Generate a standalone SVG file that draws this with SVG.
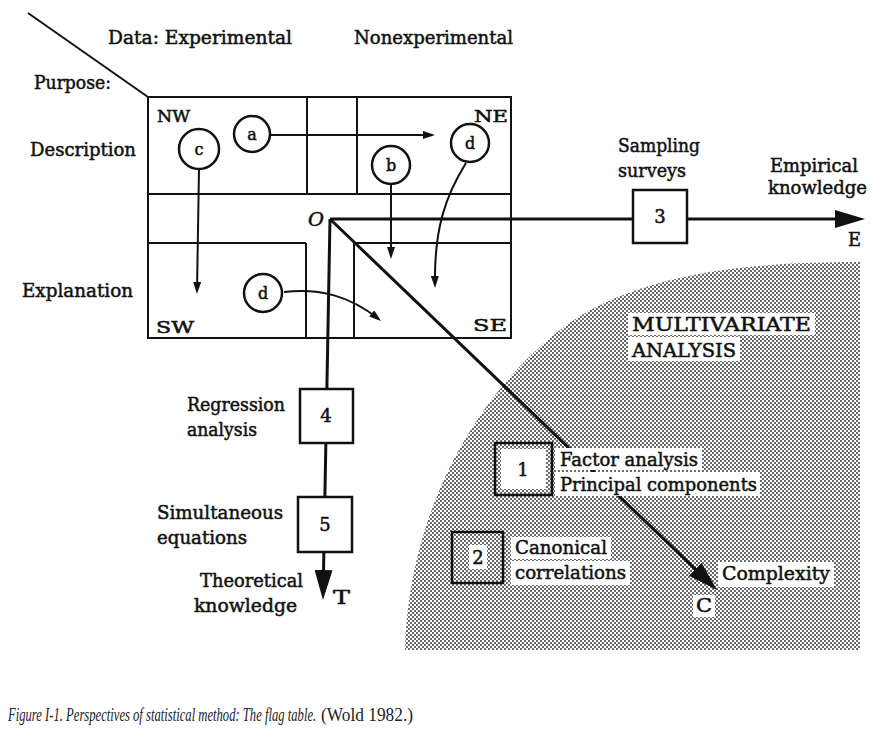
<svg xmlns="http://www.w3.org/2000/svg" width="880" height="743" viewBox="0 0 880 743">
<style>
.t{font-family:"DejaVu Serif","Liberation Serif",serif;font-size:18px;fill:#111;stroke:#111;stroke-width:0.5}
.s{font-size:16px}
.cap{font-family:"Liberation Serif",serif;font-size:18px;fill:#222}
.ln{fill:none;stroke:#111;stroke-width:2}
.ax{fill:none;stroke:#111;stroke-width:3}
.box{fill:#fff;stroke:#111;stroke-width:2.5}
.cir{fill:#fff;stroke:#111;stroke-width:2.5}
.bg{fill:#fff}
</style>
<defs>
<pattern id="dots" width="4" height="4" patternUnits="userSpaceOnUse">
<rect width="4" height="4" fill="#fff"/>
<rect width="2" height="2" fill="#6a6a6a"/>
<rect x="2" y="2" width="2" height="2" fill="#6a6a6a"/>
</pattern>
<marker id="sm" markerUnits="userSpaceOnUse" markerWidth="12" markerHeight="8" refX="9" refY="4" orient="auto">
<path d="M0,0 L12,4 L0,8 Z" fill="#111"/>
</marker>
<marker id="lg" markerUnits="userSpaceOnUse" markerWidth="30" markerHeight="18" refX="18" refY="9" orient="auto">
<path d="M0,0 L30,9 L0,18 Z" fill="#111"/>
</marker>
</defs>
<rect width="880" height="743" fill="#fff"/>

<g id="shade">
<path d="M405,650 C408,520 470,400 560,330 C637,270 760,262 860,262 L860,650 Z" fill="url(#dots)"/>
</g>

<g id="flag-table">
<line class="ln" x1="28" y1="13" x2="148" y2="97"/>
<rect class="ln" x="148" y="97" width="363" height="241"/>
<line class="ln" x1="148" y1="194" x2="511" y2="194"/>
<line class="ln" x1="148" y1="243" x2="306" y2="243"/>
<line class="ln" x1="354" y1="243" x2="511" y2="243"/>
<line class="ln" x1="307" y1="97" x2="307" y2="194"/>
<line class="ln" x1="357" y1="97" x2="357" y2="194"/>
<line class="ln" x1="306" y1="243" x2="306" y2="338"/>
<line class="ln" x1="354" y1="243" x2="354" y2="338"/>
<text class="t s" x="157" y="122" textLength="33" lengthAdjust="spacingAndGlyphs">NW</text>
<text class="t s" x="474" y="122" textLength="34" lengthAdjust="spacingAndGlyphs">NE</text>
<text class="t s" x="156" y="333" textLength="38" lengthAdjust="spacingAndGlyphs">SW</text>
<text class="t s" x="473" y="331" textLength="34" lengthAdjust="spacingAndGlyphs">SE</text>
<text class="t" x="308" y="226" font-style="italic" textLength="16" lengthAdjust="spacingAndGlyphs">O</text>
</g>

<g id="headers">
<text class="t" x="108" y="44" textLength="184" lengthAdjust="spacingAndGlyphs">Data: Experimental</text>
<text class="t" x="354" y="44" textLength="159" lengthAdjust="spacingAndGlyphs">Nonexperimental</text>
<text class="t" x="34" y="89" textLength="77" lengthAdjust="spacingAndGlyphs">Purpose:</text>
<text class="t" x="30" y="156" textLength="106" lengthAdjust="spacingAndGlyphs">Description</text>
<text class="t" x="22" y="297" textLength="111" lengthAdjust="spacingAndGlyphs">Explanation</text>
</g>

<g id="connectors">
<line class="ax" x1="330" y1="219" x2="853" y2="219" marker-end="url(#lg)"/>
<line class="ax" x1="330" y1="219" x2="323.2" y2="588" marker-end="url(#lg)"/>
<line class="ax" x1="330" y1="219" x2="708.3" y2="581.7" marker-end="url(#lg)"/>
<line class="ln" x1="270" y1="135" x2="432" y2="135" marker-end="url(#sm)"/>
<line class="ln" x1="199" y1="169" x2="197" y2="291" marker-end="url(#sm)"/>
<line class="ln" x1="391" y1="185" x2="391" y2="256" marker-end="url(#sm)"/>
<path class="ln" d="M466,163 C446,195 434,228 435,285" marker-end="url(#sm)"/>
<path class="ln" d="M284,292 C320,288 350,296 378.7,319.1" marker-end="url(#sm)"/>
</g>

<g id="circle-a"><circle class="cir" cx="252" cy="134" r="18"/><text class="t s" x="252" y="140" text-anchor="middle">a</text></g>
<g id="circle-c"><circle class="cir" cx="199" cy="149" r="20"/><text class="t s" x="199" y="155" text-anchor="middle">c</text></g>
<g id="circle-b"><circle class="cir" cx="391" cy="165" r="19"/><text class="t s" x="391" y="171" text-anchor="middle">b</text></g>
<g id="circle-d-ne"><circle class="cir" cx="470" cy="143" r="19"/><text class="t s" x="470" y="149" text-anchor="middle">d</text></g>
<g id="circle-d-sw"><circle class="cir" cx="263" cy="293" r="19"/><text class="t s" x="263" y="299" text-anchor="middle">d</text></g>

<g id="box-3">
<rect class="box" x="633" y="190" width="54" height="53"/>
<text class="t" x="660" y="223" text-anchor="middle">3</text>
<text class="t" x="618" y="152" textLength="82" lengthAdjust="spacingAndGlyphs">Sampling</text>
<text class="t" x="618" y="177" textLength="68" lengthAdjust="spacingAndGlyphs">surveys</text>
</g>
<g id="empirical">
<text class="t" x="770" y="172" textLength="88" lengthAdjust="spacingAndGlyphs">Empirical</text>
<text class="t" x="768" y="194" textLength="99" lengthAdjust="spacingAndGlyphs">knowledge</text>
<text class="t" x="848" y="246" textLength="13" lengthAdjust="spacingAndGlyphs">E</text>
</g>

<g id="box-4">
<rect class="box" x="300" y="389" width="53" height="54"/>
<text class="t" x="326" y="422" text-anchor="middle">4</text>
<text class="t" x="187" y="411" textLength="98" lengthAdjust="spacingAndGlyphs">Regression</text>
<text class="t" x="187" y="436" textLength="70" lengthAdjust="spacingAndGlyphs">analysis</text>
</g>
<g id="box-5">
<rect class="box" x="298" y="497" width="54" height="55"/>
<text class="t" x="325" y="531" text-anchor="middle">5</text>
<text class="t" x="157" y="519" textLength="126" lengthAdjust="spacingAndGlyphs">Simultaneous</text>
<text class="t" x="157" y="544" textLength="90" lengthAdjust="spacingAndGlyphs">equations</text>
</g>
<g id="theoretical">
<text class="t" x="200" y="587" textLength="103" lengthAdjust="spacingAndGlyphs">Theoretical</text>
<text class="t" x="194" y="612" textLength="103" lengthAdjust="spacingAndGlyphs">knowledge</text>
<text class="t" x="333" y="604" textLength="17" lengthAdjust="spacingAndGlyphs">T</text>
</g>

<g id="multivariate">
<rect class="bg" x="628" y="313" width="187" height="22"/>
<rect class="bg" x="628" y="337" width="112" height="24"/>
<text class="t" x="632" y="331" textLength="179" lengthAdjust="spacingAndGlyphs">MULTIVARIATE</text>
<text class="t" x="632" y="357" textLength="104" lengthAdjust="spacingAndGlyphs">ANALYSIS</text>
</g>
<g id="box-1">
<rect class="box" x="495" y="443" width="57" height="52" style="fill:url(#dots)"/>
<rect class="bg" x="501" y="449" width="45" height="40"/>
<text class="t" x="523" y="476" text-anchor="middle">1</text>
<rect class="bg" x="555" y="448" width="147" height="22"/>
<rect class="bg" x="555" y="472" width="205" height="24"/>
<text class="t" x="560" y="466" textLength="138" lengthAdjust="spacingAndGlyphs">Factor analysis</text>
<text class="t" x="560" y="491" textLength="197" lengthAdjust="spacingAndGlyphs">Principal components</text>
</g>
<g id="box-2">
<rect class="box" x="452" y="532" width="51" height="51" style="fill:url(#dots)"/>
<rect class="bg" x="469" y="545" width="18" height="24"/>
<text class="t" x="478" y="564" text-anchor="middle">2</text>
<rect class="bg" x="511" y="537" width="100" height="22"/>
<rect class="bg" x="511" y="561" width="119" height="24"/>
<text class="t" x="515" y="554" textLength="92" lengthAdjust="spacingAndGlyphs">Canonical</text>
<text class="t" x="515" y="579" textLength="111" lengthAdjust="spacingAndGlyphs">correlations</text>
</g>
<g id="complexity">
<rect class="bg" x="718" y="562" width="116" height="25"/>
<rect class="bg" x="693" y="595" width="22" height="22"/>
<text class="t" x="722" y="580" textLength="108" lengthAdjust="spacingAndGlyphs">Complexity</text>
<text class="t" x="696" y="612" textLength="16" lengthAdjust="spacingAndGlyphs">C</text>
</g>

<g id="caption">
<text class="cap" transform="translate(8,721) scale(0.72,1)" x="0" y="0" font-style="italic" textLength="428" lengthAdjust="spacingAndGlyphs">Figure I-1. Perspectives of statistical method: The flag table.</text>
<text class="cap" x="321" y="721" textLength="92" lengthAdjust="spacingAndGlyphs">(Wold 1982.)</text>
</g>
</svg>
